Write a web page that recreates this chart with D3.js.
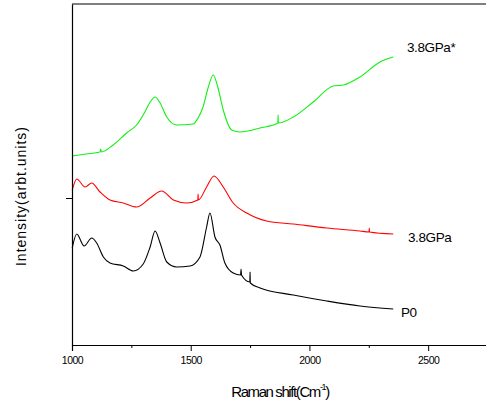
<!DOCTYPE html>
<html><head><meta charset="utf-8">
<script src="https://cdn.jsdelivr.net/npm/d3@7"></script>
<style>
html,body{margin:0;padding:0;background:#fff;}
svg{display:block;font-family:"Liberation Sans",Arial,sans-serif;}
</style></head>
<body><svg id="c" width="486" height="404"></svg>
<script>
// Raman shift (cm^-1) and intensity (arbitrary units)
const p0Shift = [1001,1020,1051,1083,1104,1132,1160,1216,1258,1300,1329,1350,1371,1399,1441,1497,1539,1567,1581,1602,1623,1644,1679,1710,1712,1714,1749,1750,1751,1792,1932,2073,2213,2353];
const p0Int   = [97,111,99,107,102,88,82,79,74,81,98,114,102,83,78,79,88,118,132,108,100,82,72,70,76,70,63,73,62,57,50,44,39,36];

const gpaShift = [1001,1020,1055,1083,1118,1160,1216,1272,1329,1378,1427,1483,1530,1531,1532,1567,1598,1637,1679,1736,1820,1932,2073,2213,2251,2252,2253,2353];
const gpaInt   = [155,166,158,162,153,145,142,138,147,154,145,142,145,151,145,158,169,158,142,132,124,121,117,114,113,117,113,111];

const gpaStarShift = [1000,1059,1118,1121,1124,1173,1230,1272,1307,1329,1350,1371,1399,1441,1510,1531,1552,1573,1595,1615,1637,1673,1708,1792,1867,1868,1869,1932,2016,2100,2143,2213,2297,2353];
const gpaStarInt   = [189,191,193,196,193,200,212,220,233,243,248,242,228,220,221,227,238,257,270,257,235,215,213,217,222,230,222,228,243,259,260,268,283,288];

const seriesNames = ["P0","3.8GPa","3.8GPa*"];
const xTickValues = [1000,1250,1500,1750,2000,2250,2500];
const xTickLabels = ["1000","","1500","","2000","","2500"];
const yTickValues = [147];

const svg = d3.select("#c");
const x = d3.scaleLinear().domain([1000,2750]).range([72,487.5]);
const y = d3.scaleLinear().domain([0,341]).range([345,4]);

const series = [
  {name:seriesNames[0], xs:p0Shift, ys:p0Int, color:"#000000", lx:401, ly:317},
  {name:seriesNames[1], xs:gpaShift, ys:gpaInt, color:"#ff0000", lx:408, ly:242},
  {name:seriesNames[2], xs:gpaStarShift, ys:gpaStarInt, color:"#11f011", lx:407, ly:52}
];

const line = d3.line().x(d=>x(d[0])).y(d=>y(d[1])).curve(d3.curveMonotoneX);
series.forEach(s=>{
  const pts = s.xs.map((v,i)=>[v,s.ys[i]]);
  svg.append("path").attr("d",line(pts)).attr("fill","none")
     .attr("stroke",s.color).attr("stroke-width",1.1);
  svg.append("text").attr("x",s.lx).attr("y",s.ly).attr("font-size",13.5)
     .attr("letter-spacing","-0.4px").attr("fill","#000").text(s.name);
});

// frame top line
svg.append("line").attr("x1",x(1000)).attr("x2",x(2750)).attr("y1",y(341)).attr("y2",y(341))
   .attr("stroke","#000").attr("stroke-width",1.2);

// x axis
const xa = svg.append("g").attr("transform",`translate(0,${y(0)})`)
  .call(d3.axisBottom(x).tickValues(xTickValues).tickFormat((d,i)=>xTickLabels[i]).tickSizeOuter(0).tickSize(6));
xa.select(".domain").attr("stroke-width",1.2);
xa.selectAll(".tick line").attr("y2",(d,i)=>xTickLabels[i]===""?3:6);
xa.selectAll(".tick text").attr("font-size",10.5).attr("font-family","Liberation Sans, Arial, sans-serif")
  .attr("letter-spacing","-0.5px").attr("dy","0.55em").attr("y",13);

// y axis
const ya = svg.append("g").attr("transform",`translate(${x(1000)},0)`)
  .call(d3.axisLeft(y).tickValues(yTickValues).tickFormat("").tickSize(6).tickSizeOuter(0));
ya.select(".domain").attr("stroke-width",1.2);

// titles
const xt = svg.append("text").attr("x",280).attr("y",397).attr("text-anchor","middle")
   .attr("font-size",15).attr("letter-spacing","-1.4px").attr("fill","#000");
xt.append("tspan").text("Raman shift(Cm");
xt.append("tspan").attr("font-size",9).attr("dy",-7).text("-1");
xt.append("tspan").attr("dy",7).text(")");

svg.append("text").attr("transform","translate(26,196) rotate(-90)").attr("text-anchor","middle")
   .attr("font-size",14).attr("letter-spacing","1px").attr("fill","#000").text("Intensity(arbt.units)");
</script></body></html>
